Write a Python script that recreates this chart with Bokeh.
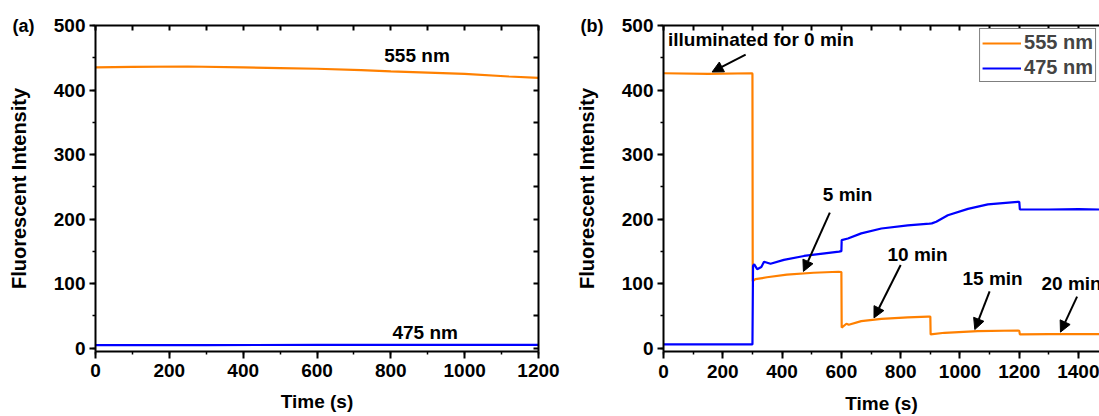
from bokeh.plotting import figure
from bokeh.layouts import row
from bokeh.models import (Range1d, LinearAxis, SingleIntervalTicker, FixedTicker, Label,
                          Arrow, NormalHead)
from bokeh.embed import file_html
from bokeh.resources import INLINE

# ---------------- data ----------------
# panel (a)
a_time = [0, 100, 250, 400, 500, 600, 720, 800, 900, 1000, 1120, 1200]
a_555 = [435, 436, 436.5, 435, 434, 433, 431, 429, 427, 425, 421, 419]
a_time_475 = [0, 300, 600, 900, 1200]
a_475 = [5.0, 5.0, 5.2, 5.3, 5.4]

# panel (b)
b_time_555 = [0, 150, 299, 300, 301, 310, 349, 416, 506, 590, 600, 601, 617, 625, 667,
              735, 824, 892, 900, 901, 948, 1060, 1195, 1200, 1202, 1300, 1400, 1470]
b_555 = [426, 425, 426, 425, 104, 107, 110, 114, 117, 118.5, 118, 32, 38, 36.5, 42,
         45.5, 48, 49, 49, 21.5, 24, 26.5, 27.5, 27, 21.5, 22, 22, 22]
b_time_475 = [0, 150, 299, 300, 302, 306, 316, 330, 339, 361, 406, 474, 592, 600, 601,
              622, 667, 735, 824, 897, 905, 920, 959, 1027, 1094, 1184, 1200, 1202,
              1300, 1400, 1470]
b_475 = [6, 6, 6, 6, 128, 130, 122.5, 126, 134, 131, 137, 143, 149.7, 150.5, 167.5,
         170, 178, 185.5, 190.5, 193, 193.5, 196, 206, 216, 223, 226.5, 227, 215,
         215, 215.5, 215]

x_label = "Time (s)"
y_label = "Fluorescent Intensity"
series_names = ["555 nm", "475 nm"]
panel_names = ["(a)", "(b)"]

# tick positions for the unlabeled frame axes (top / right)
top_ticks = [0, 100, 200, 300, 400, 500, 600, 700, 800, 900, 1000, 1100, 1200, 1300, 1400]
right_ticks = [0, 50, 100, 150, 200, 250, 300, 350, 400, 450]

ORANGE = "#FF8000"
BLUE = "#0000FF"
FONT = "Liberation Sans"


def base_axis(ax):
    ax.axis_line_width = 2
    ax.axis_line_color = "black"
    ax.major_tick_line_width = 2
    ax.minor_tick_line_width = 1.5
    ax.major_tick_line_color = "black"
    ax.minor_tick_line_color = "black"


def style_main_axis(ax, y=False, xstand=5):
    base_axis(ax)
    ax.major_tick_in = 0
    ax.major_tick_out = 6 if y else 7
    ax.minor_tick_in = 0
    ax.minor_tick_out = 3
    ax.major_label_text_font = FONT
    ax.major_label_text_font_style = "bold"
    ax.major_label_text_font_size = "19px"
    ax.major_label_text_color = "black"
    ax.major_label_standoff = 4 if y else xstand
    ax.axis_label_text_font = FONT
    ax.axis_label_text_font_style = "bold"
    ax.axis_label_text_color = "black"


def frame_axis(ticks):
    ax = LinearAxis(ticker=FixedTicker(ticks=[], minor_ticks=ticks))
    base_axis(ax)
    ax.major_tick_in = 0
    ax.major_tick_out = 0
    ax.minor_tick_in = 5
    ax.minor_tick_out = 0
    ax.minor_tick_line_width = 2
    ax.major_label_standoff = 0
    return ax


def make_fig(width, xmax, mb_left, mb_right, mb_top, mb_bottom, right_axis, name,
             xstand, xtitle_stand):
    p = figure(width=width, height=416, output_backend="svg", toolbar_location=None,
               x_range=Range1d(0, xmax), y_range=Range1d(-5, 500),
               min_border_left=mb_left, min_border_right=mb_right,
               min_border_top=mb_top, min_border_bottom=mb_bottom,
               x_axis_label=x_label, y_axis_label=y_label, title=name)
    p.grid.visible = False
    p.outline_line_color = None
    p.background_fill_color = "white"
    p.border_fill_color = "white"
    p.title.align = "left"
    p.title.offset = -83
    p.title.standoff = -20
    p.title.text_font = FONT
    p.title.text_font_style = "bold"
    p.title.text_font_size = "18px"
    p.title.text_color = "black"
    p.xaxis.ticker = SingleIntervalTicker(interval=200, num_minor_ticks=2)
    p.yaxis.ticker = SingleIntervalTicker(interval=100, num_minor_ticks=2)
    for ax in p.xaxis:
        style_main_axis(ax, xstand=xstand)
        ax.axis_label_text_font_size = "19px"
        ax.axis_label_standoff = xtitle_stand
    for ax in p.yaxis:
        style_main_axis(ax, y=True)
        ax.axis_label_text_font_size = "20px"
        ax.axis_label_standoff = 21
    p.add_layout(frame_axis(top_ticks), "above")
    if right_axis:
        p.add_layout(frame_axis(right_ticks), "right")
    return p


def label(p, x, y, text, size="19px", align="center"):
    p.add_layout(Label(x=x, y=y, text=text, text_font=FONT, text_font_style="bold",
                       text_font_size=size, text_align=align, text_baseline="middle",
                       text_color="black"))


def arrow(p, xs, ys, xe, ye):
    p.add_layout(Arrow(end=NormalHead(size=11, fill_color="black", line_color="black",
                                      line_width=1),
                       x_start=xs, y_start=ys, x_end=xe, y_end=ye,
                       line_width=2, line_color="black"))


# ---------------- panel (a) ----------------
pa = make_fig(560, 1200, 95, 22, 25, 62, True, panel_names[0], 5, 11)
pa.line(a_time, a_555, line_color=ORANGE, line_width=2.2)
pa.line(a_time_475, a_475, line_color=BLUE, line_width=2.2)
label(pa, 871, 453, series_names[0])
label(pa, 893, 25, series_names[1])

# ---------------- panel (b) ----------------
pb = make_fig(539, 1470.6, 103, 0, 24, 64, False, panel_names[1], 6, 12)
pb.line(b_time_555, b_555, line_color=ORANGE, line_width=2.2, legend_label=series_names[0])
pb.line(b_time_475, b_475, line_color=BLUE, line_width=2.2, legend_label=series_names[1])

lg = pb.legend[0]
lg.location = "top_right"
lg.margin = 3
lg.padding = 2
lg.spacing = 2
lg.label_height = 22
lg.glyph_height = 22
lg.glyph_width = 39
lg.label_standoff = 3
lg.label_text_font = FONT
lg.label_text_font_style = "bold"
lg.label_text_font_size = "20px"
lg.border_line_color = "black"
lg.border_line_width = 1.5
lg.background_fill_alpha = 1
lg.background_fill_color = "white"

label(pb, 15, 478, "illuminated for 0 min", align="left")
arrow(pb, 277, 455, 164, 428)
label(pb, 621, 238, "5 min")
arrow(pb, 561, 210, 472, 119)
label(pb, 857, 146, "10 min")
arrow(pb, 800, 129, 710, 47)
label(pb, 1110, 108, "15 min")
arrow(pb, 1100, 88, 1050, 29)
label(pb, 1275, 101, "20 min", align="left")
arrow(pb, 1395, 80, 1339, 25)

layout = row(pa, pb)
open("out.html", "w").write(file_html(layout, INLINE))
